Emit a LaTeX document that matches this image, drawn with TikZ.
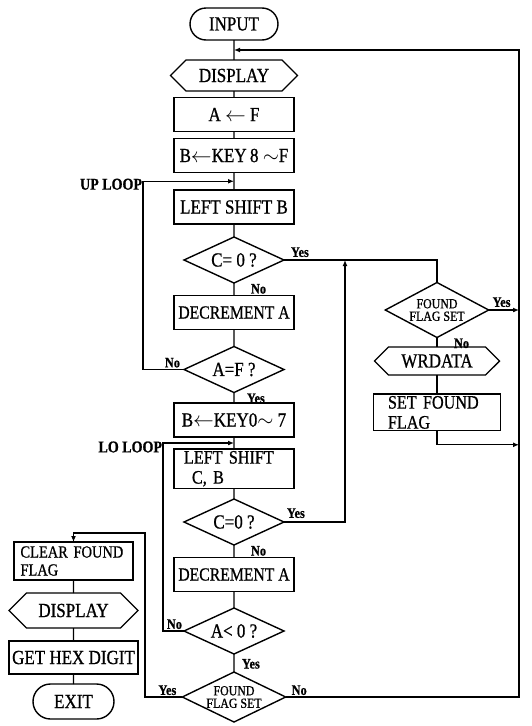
\documentclass[tikz,border=0pt]{standalone}
\usepackage{fontspec}
\setmainfont{Liberation Serif}[FakeStretch=0.85,FakeBold=0.8]
\usetikzlibrary{positioning,arrows.meta,shapes.geometric,shapes.misc,shapes.symbols,calc}

\begin{document}
\begin{tikzpicture}[every node/.style={font=\fontsize{20}{17}\selectfont,outer sep=0pt},
      line width=1.4pt,
      box/.style={draw,minimum width=120pt,minimum height=34pt,inner sep=2pt,align=center},
      twoline/.style={box,align=left,text width=100pt,font=\fontsize{19}{20}\selectfont},
      decide/.style={draw,diamond,aspect=2.2,inner sep=0pt,align=center,minimum width=100pt,minimum height=46pt},
      small/.style={font=\fontsize{14}{12.5}\selectfont},
      term/.style={draw,rounded rectangle,minimum width=92pt,minimum height=32pt,inner sep=2pt},
      disp/.style={draw,signal,signal to=west and east,minimum width=127pt,minimum height=31pt,inner sep=2pt},
      lbl/.style={font=\bfseries\fontsize{14.5}{14.5}\selectfont,inner sep=1pt},
      looplbl/.style={lbl,font=\bfseries\fontsize{16.5}{16.5}\selectfont},
      arr/.style={-{Latex[length=6pt,width=5pt]}}]
      \useasboundingbox (0,0) rectangle (532pt,-726pt);

      % main column
      \node[term] (input) at (234pt,-24pt) {INPUT};
      \node[disp,below=20pt of input] (disp1) {DISPLAY};
      \node[box,below=6.5pt of disp1] (aF) {A $\leftarrow$ F};
      \node[box,below=7pt of aF] (key8) {B$\leftarrow$KEY\,8 $\sim$F};
      \node[box,below=17.5pt of key8] (lsb) {LEFT SHIFT B};
      \node[decide,below=13pt of lsb] (ceq1) {C= 0 ?};
      \node[box,below=12.5pt of ceq1,font=\fontsize{18.5}{17}\selectfont] (dec1) {DECREMENT A};
      \node[decide,below=17pt of dec1] (aeqf) {A=F ?};
      \node[box,below=10.5pt of aeqf] (key0) {B$\leftarrow$KEY0$\sim$ 7};
      \node[twoline,below=12pt of key0,minimum height=39pt] (lscb) {LEFT SHIFT\\\hspace*{8pt}C, B};
      \node[decide,below=10.5pt of lscb] (ceq2) {C=0 ?};
      \node[box,below=12.5pt of ceq2,font=\fontsize{18.5}{17}\selectfont] (dec2) {DECREMENT A};
      \node[decide,below=16.5pt of dec2] (alt) {A< 0 ?};
      \node[decide,small,below=18pt of alt,minimum width=97pt,minimum height=50pt] (ffs2) {FOUND\\FLAG SET};

      % right column
      \node[decide,small,minimum width=95pt,minimum height=55pt] (ffs1) at (437pt,-310pt) {FOUND\\FLAG SET};
      \node[disp,below=9.5pt of ffs1,minimum width=125pt,minimum height=28pt] (wrdata) {WRDATA};
      \node[twoline,below=19pt of wrdata,minimum width=127pt,text width=98pt] (setff) {SET FOUND\\FLAG};

      % left column
      \node[twoline,minimum width=119pt,minimum height=38pt,text width=106pt,font=\fontsize{17}{18}\selectfont] (clr) at (73.5pt,-561pt) {CLEAR FOUND\\FLAG};
      \node[disp,below=13pt of clr,minimum width=129pt,minimum height=35pt] (disp2) {DISPLAY};
      \node[box,below=13pt of disp2,minimum width=129pt,minimum height=33pt] (hexd) {GET HEX DIGIT};
      \node[term,below=10pt of hexd,minimum width=85pt,minimum height=35pt] (exit) {EXIT};

      \coordinate (ret) at ($(input.south)!0.5!(disp1.north)$);
      \coordinate (uploop) at ($(key8.south)!0.5!(lsb.north)$);
      \coordinate (loloop) at ($(key0.south)!0.5!(lscb.north)$);
      \coordinate (rline) at (519pt,0);
      \coordinate[right=61pt of ceq1.east] (jn);
      \coordinate (sfout) at ([yshift=-14pt]setff.south);
      \coordinate (clrtop) at ([yshift=9pt]clr.north);

      \draw (input) -- (disp1) -- (aF) -- (key8) -- (lsb) -- (ceq1) -- (dec1) -- (aeqf)
        -- (key0) -- (lscb) -- (ceq2) -- (dec2) -- (alt) -- (ffs2);
      \draw (ffs1) -- (wrdata) -- (setff);
      \draw (clr) -- (disp2) -- (hexd) -- (exit);

      \draw (ceq1.east) -| (ffs1.north);
      \draw[arr] (ceq2.east) -| (jn);
      \draw[arr] (ffs1.east) -- (ffs1.east -| rline);
      \draw[arr] (setff.south) -- (sfout) -- (sfout -| rline);
      \draw[arr] (ffs2.east) -| (rline |- ret) -- (ret);
      \draw[arr] (aeqf.west) -- ++(-41pt,0) |- (uploop)
        node[looplbl,pos=0.5,anchor=east,yshift=-3pt] (uplbl) {UP LOOP};
      \draw[arr] (alt.west) -- ++(-21pt,0) |- (loloop)
        node[looplbl,pos=0.5,anchor=east,yshift=-4pt] (lolbl) {LO LOOP};
      \draw[arr] (ffs2.west) -- ++(-37.5pt,0) |- (clrtop) -- (clr.north);

      % yes / no
      \node[lbl,anchor=south west] (y1) at ([xshift=6pt,yshift=2pt]ceq1.east) {Yes};
      \node[lbl,anchor=north west] (n1) at ([xshift=16pt]ceq1.south) {No};
      \node[lbl,anchor=south east] (n2) at ([xshift=-3pt,yshift=1pt]aeqf.west) {No};
      \node[lbl,anchor=north west] (y2) at ([xshift=12pt]aeqf.south) {Yes};
      \node[lbl,anchor=south west] (y3) at ([xshift=3pt,yshift=2pt]ffs1.east) {Yes};
      \node[lbl,anchor=north west] (n3) at ([xshift=16pt]ffs1.south) {No};
      \node[lbl,anchor=south west] (y4) at ([xshift=2pt,yshift=3pt]ceq2.east) {Yes};
      \node[lbl,anchor=north west] (n4) at ([xshift=16pt]ceq2.south) {No};
      \node[lbl,anchor=south east] (n5) at ([xshift=-1pt,yshift=1pt]alt.west) {No};
      \node[lbl,anchor=north west] (y5) at ([xshift=7pt,yshift=-4pt]alt.south) {Yes};
      \node[lbl,anchor=south east] (y6) at ([xshift=-5pt,yshift=1pt]ffs2.west) {Yes};
      \node[lbl,anchor=south west] (n6) at ([xshift=5pt,yshift=1pt]ffs2.east) {No};
    \end{tikzpicture}
\end{document}
